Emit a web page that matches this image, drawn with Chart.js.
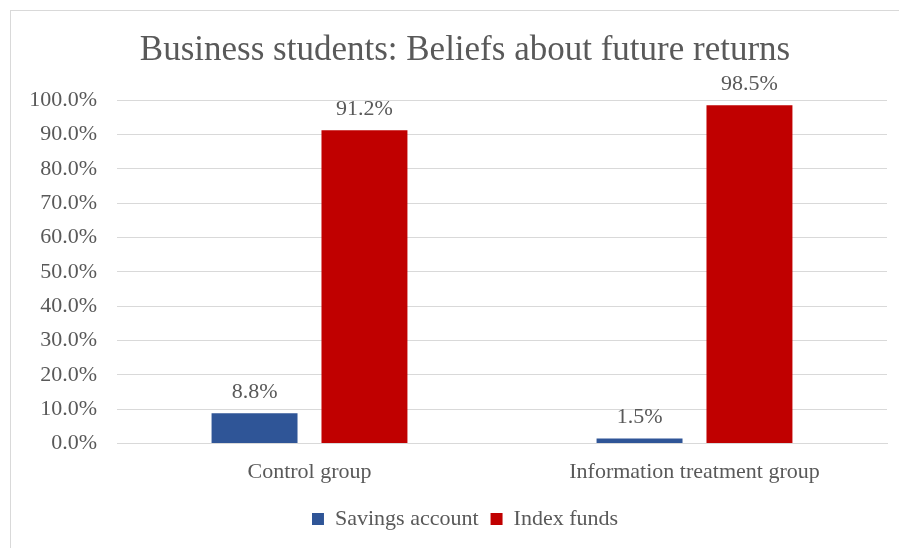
<!DOCTYPE html>
<html>
<head>
<meta charset="utf-8">
<script src="https://cdn.jsdelivr.net/npm/chart.js@4"></script>
<style>
  html, body { margin: 0; padding: 0; background: #fff; overflow: hidden; width: 899px; height: 548px; }
  #frame { position: absolute; left: 10px; top: 10px; width: 910px; height: 550px; border: 1px solid #d9d9d9; }
  #wrap { position: absolute; left: 0; top: 0; width: 920px; height: 548px; }
</style>
</head>
<body>
<div id="frame"></div>
<div id="wrap"><canvas id="chart" width="920" height="548"></canvas></div>
<script>
// chart data
var groups = ['Control group', 'Information treatment group'];
var savingsAccount = [8.8, 1.5];
var indexFunds = [91.2, 98.5];
var seriesNames = ['Savings account', 'Index funds'];

var textColor = '#595959';
var serif = "'Liberation Serif', 'Times New Roman', serif";

// draws the value above each bar
var valueLabels = {
    id: 'valueLabels',
    afterDatasetsDraw: function (chart) {
        var ctx = chart.ctx;
        ctx.save();
        ctx.font = '22px ' + serif;
        ctx.fillStyle = textColor;
        ctx.textAlign = 'center';
        ctx.textBaseline = 'bottom';
        chart.data.datasets.forEach(function (ds, i) {
            chart.getDatasetMeta(i).data.forEach(function (bar, j) {
                ctx.fillText(ds.data[j].toFixed(1) + '%', bar.x, bar.y - 10);
            });
        });
        ctx.restore();
    }
};

var ctx = document.getElementById('chart').getContext('2d');
var chart = new Chart(ctx, {
    type: 'bar',
    data: {
        labels: groups,
        datasets: [{
            label: seriesNames[0],
            data: savingsAccount,
            backgroundColor: '#2F5597',
            categoryPercentage: 0.571,
            barPercentage: 0.782
        }, {
            label: seriesNames[1],
            data: indexFunds,
            backgroundColor: '#C00000',
            categoryPercentage: 0.571,
            barPercentage: 0.782
        }]
    },
    options: {
        responsive: false,
        animation: false,
        layout: { padding: { left: 10, right: 0, top: 10, bottom: 8 } },
        plugins: {
            title: {
                display: true,
                text: 'Business students: Beliefs about future returns',
                color: textColor,
                font: { family: serif, size: 35, weight: 'normal' },
                padding: { top: 20, bottom: 28 }
            },
            legend: {
                position: 'bottom',
                labels: {
                    color: textColor,
                    font: { family: serif, size: 22 },
                    boxWidth: 12,
                    boxHeight: 12,
                    padding: 12
                }
            },
            tooltip: { enabled: false }
        },
        scales: {
            x: {
                grid: { display: false },
                border: { color: '#d9d9d9' },
                ticks: { color: textColor, font: { family: serif, size: 22 }, padding: 7 },
                afterFit: function (scale) { scale.height += 4; }
            },
            y: {
                min: 0,
                max: 100,
                grid: { color: '#d9d9d9', drawTicks: false },
                border: { display: false },
                ticks: {
                    stepSize: 10,
                    padding: 20,
                    color: textColor,
                    font: { family: serif, size: 22 },
                    callback: function (value) { return value.toFixed(1) + '%'; }
                },
                afterFit: function (scale) { scale.width = 107; }
            },
            // empty right-hand axis, only reserves space on the right of the plot
            yRight: {
                position: 'right',
                min: 0,
                max: 100,
                grid: { display: false },
                border: { display: false },
                ticks: { display: false },
                afterFit: function (scale) { scale.width = 33; }
            }
        }
    },
    plugins: [valueLabels]
});
</script>
</body>
</html>
